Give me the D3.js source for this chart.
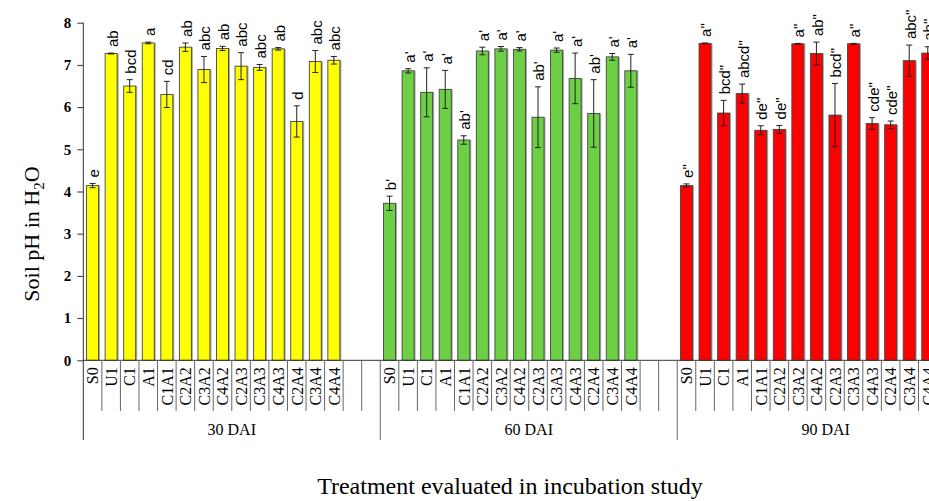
<!DOCTYPE html>
<html><head><meta charset="utf-8">
<script src="https://cdn.jsdelivr.net/npm/d3@7/dist/d3.min.js"></script>
<style>html,body{margin:0;padding:0;background:#fff;overflow:hidden}</style>
</head><body><div id="chart"></div>
<script>
const groups = ["30 DAI", "60 DAI", "90 DAI"];
const treatments = ["S0","U1","C1","A1","C1A1","C2A2","C3A2","C4A2","C2A3","C3A3","C4A3","C2A4","C3A4","C4A4"];
const colors = ["#ffff00", "#6ccf44", "#ff0000"];
const mean30 = [4.14,7.27,6.50,7.52,6.30,7.42,6.89,7.39,6.97,6.94,7.38,5.66,7.08,7.11];
const err30  = [0.05,0.01,0.15,0.02,0.31,0.10,0.31,0.05,0.32,0.07,0.03,0.37,0.26,0.09];
const sig30  = ["e","ab","bcd","a","cd","ab","abc","ab","abc","abc","ab","d","abc","abc"];
const mean60 = [3.72,6.86,6.35,6.42,5.22,7.33,7.38,7.37,5.76,7.35,6.68,5.85,7.19,6.86];
const err60  = [0.17,0.05,0.58,0.45,0.10,0.09,0.055,0.04,0.72,0.05,0.60,0.80,0.08,0.39];
const sig60  = ["b'","a'","a'","a'","ab'","a'","a'","a'","ab'","a'","a'","ab'","a'","a'"];
const mean90 = [4.14,7.51,5.86,6.32,5.45,5.47,7.50,7.27,5.81,7.50,5.61,5.58,7.10,7.28];
const err90  = [0.04,0.01,0.30,0.225,0.107,0.095,0.01,0.27,0.75,0.01,0.14,0.09,0.37,0.15];
const sig90  = ["e\"","a\"","bcd\"","abcd\"","de\"","de\"","a\"","ab\"","bcd\"","a\"","cde\"","cde\"","abc\"","ab\""];
const yTicks = [0,1,2,3,4,5,6,7,8];
const yTitle = "Soil pH in H";
const xTitle = "Treatment evaluated in incubation study";

const means = [mean30, mean60, mean90], errs = [err30, err60, err90], sigs = [sig30, sig60, sig90];
const W = 929, H = 501;
const serif = "'Liberation Serif','Times New Roman',serif";
const sans = "'Liberation Sans',Arial,sans-serif";

// slots: 14 treatments + 2 blanks per group
const slots = [];
groups.forEach((g, gi) => {
  treatments.forEach(t => slots.push(g + "|" + t));
  slots.push(g + "|_b1"); slots.push(g + "|_b2");
});
const data = [];
groups.forEach((g, gi) => treatments.forEach((t, i) => data.push({
  key: g + "|" + t, t, gi, v: means[gi][i], e: errs[gi][i], s: sigs[gi][i]
})));

const x = d3.scaleBand().domain(slots).range([83.3, 83.3 + 48 * 18.56]).paddingInner(0).paddingOuter(0);
const y = d3.scaleLinear().domain([0, 8]).range([360.3, 22.7]);
const bw = 12;

const svg = d3.select("#chart").append("svg").attr("width", W).attr("height", H);

// bars shadow
svg.append("g").selectAll("rect").data(data).join("rect")
  .attr("x", d => x(d.key) + (x.bandwidth() - bw) / 2 + 1.5)
  .attr("y", d => y(d.v))
  .attr("width", bw).attr("height", d => y(0) - y(d.v))
  .attr("fill", "#aaa");
svg.append("g").selectAll("rect").data(data).join("rect")
  .attr("x", d => x(d.key) + (x.bandwidth() - bw) / 2)
  .attr("y", d => y(d.v))
  .attr("width", bw).attr("height", d => y(0) - y(d.v))
  .attr("fill", d => colors[d.gi]).attr("stroke", "#444").attr("stroke-width", 0.9);

// error bars
const eg = svg.append("g").attr("stroke", "#222").attr("stroke-width", 1);
data.forEach(d => {
  const cx = x(d.key) + x.bandwidth() / 2;
  eg.append("line").attr("x1", cx).attr("x2", cx).attr("y1", y(d.v - d.e)).attr("y2", y(d.v + d.e));
  eg.append("line").attr("x1", cx - 3).attr("x2", cx + 3).attr("y1", y(d.v - d.e)).attr("y2", y(d.v - d.e));
  eg.append("line").attr("x1", cx - 3).attr("x2", cx + 3).attr("y1", y(d.v + d.e)).attr("y2", y(d.v + d.e));
});

// significance letters
svg.append("g").selectAll("text").data(data).join("text")
  .attr("transform", d => `translate(${x(d.key) + x.bandwidth() / 2 + 1},${y(d.v + d.e) - 6}) rotate(-90)`)
  .attr("dy", "0.36em").attr("text-anchor", "start")
  .attr("font-family", sans).attr("font-size", 15).attr("fill", "#000")
  .text(d => d.s);

// y axis
const ya = svg.append("g").attr("transform", "translate(83.3,0)")
  .call(d3.axisLeft(y).tickValues(yTicks).tickSize(6).tickFormat(d3.format("d")));
ya.select(".domain").remove();
ya.selectAll("line").attr("stroke", "#333");
ya.selectAll("text").attr("font-family", serif).attr("font-size", 15).attr("font-weight", "bold").attr("x", -12).attr("fill", "#000");
svg.append("line").attr("x1", 83.3).attr("x2", 83.3).attr("y1", y(8)).attr("y2", 440).attr("stroke", "#333");

// x axis baseline
svg.append("line").attr("x1", 83.3).attr("x2", W + 50).attr("y1", y(0)).attr("y2", y(0)).attr("stroke", "#333");

// slot divider ticks
const bounds = d3.range(1, slots.length + 1);
svg.append("g").selectAll("line").data(bounds).join("line")
  .attr("x1", i => x.range()[0] + i * x.step()).attr("x2", i => x.range()[0] + i * x.step())
  .attr("y1", y(0)).attr("y2", i => (i % 16 === 0) ? 440 : 411)
  .attr("stroke", "#666");

// category labels
svg.append("g").selectAll("text").data(data).join("text")
  .attr("transform", d => `translate(${x(d.key) + x.bandwidth() / 2},${y(0) + 7}) rotate(-90)`)
  .attr("dy", "0.36em").attr("text-anchor", "end")
  .attr("font-family", serif).attr("font-size", 16).attr("fill", "#000")
  .text(d => d.t);

// group labels
svg.append("g").selectAll("text").data(groups).join("text")
  .attr("x", (g, gi) => x.range()[0] + (gi * 16 + 8) * x.step())
  .attr("y", 435).attr("text-anchor", "middle")
  .attr("font-family", serif).attr("font-size", 16).attr("fill", "#000")
  .text(g => g);

// titles
svg.append("text").attr("x", 510).attr("y", 494).attr("text-anchor", "middle")
  .attr("font-family", serif).attr("font-size", 24).text(xTitle);
const yt = svg.append("text").attr("transform", "translate(39,234) rotate(-90)").attr("text-anchor", "middle")
  .attr("font-family", serif).attr("font-size", 22);
yt.append("tspan").text(yTitle);
yt.append("tspan").attr("font-size", 15).attr("dy", 5).text("2");
yt.append("tspan").attr("dy", -5).text("O");
</script></body></html>
